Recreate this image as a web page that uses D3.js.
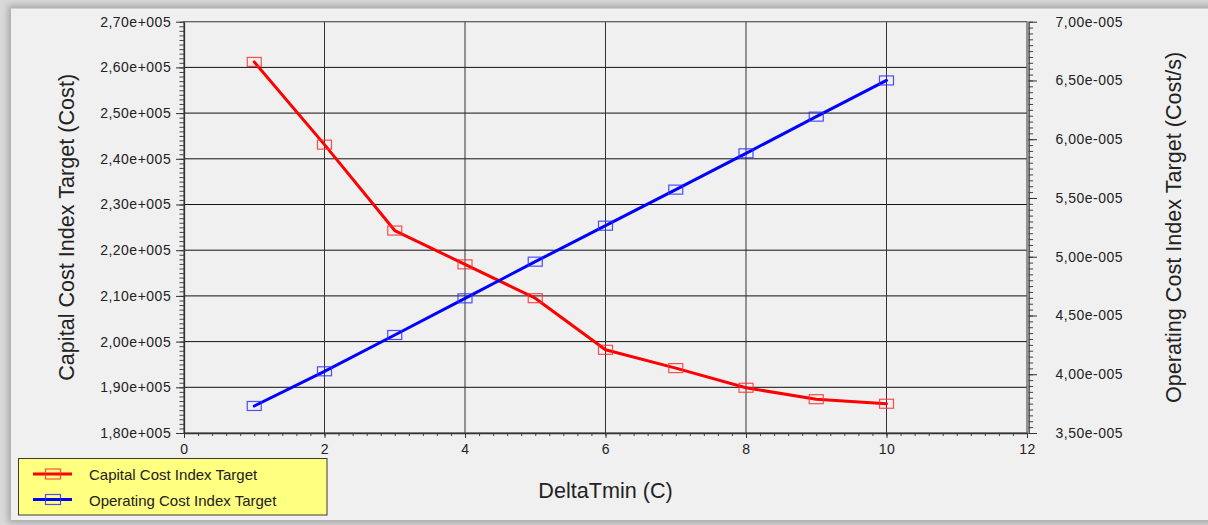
<!DOCTYPE html>
<html>
<head>
<meta charset="utf-8">
<script src="https://cdn.jsdelivr.net/npm/d3@7"></script>
<style>
  html, body { margin: 0; padding: 0; background: #d8d8d8; }
  svg { display: block; }
  text { font-family: "Liberation Sans", Arial, sans-serif; fill: #222; }
</style>
</head>
<body>
<svg id="chart" width="1208" height="525"></svg>
<script>
// DeltaTmin sweep: capital vs operating cost index targets
const deltaTmin = [1, 2, 3, 4, 5, 6, 7, 8, 9, 10];
const capitalCost = [261200, 243100, 224300, 216900, 209500, 198200, 194200, 189900, 187400, 186400];
const operatingCost = [3.73e-5, 4.025e-5, 4.334e-5, 4.646e-5, 4.958e-5, 5.264e-5, 5.571e-5, 5.88e-5, 6.192e-5, 6.50e-5];

const xTicks = [0, 2, 4, 6, 8, 10, 12];
const leftTicks = [1.8e5, 1.9e5, 2.0e5, 2.1e5, 2.2e5, 2.3e5, 2.4e5, 2.5e5, 2.6e5, 2.7e5];
const rightTicks = [3.5e-5, 4.0e-5, 4.5e-5, 5.0e-5, 5.5e-5, 6.0e-5, 6.5e-5, 7.0e-5];

const seriesNames = ["Capital Cost Index Target", "Operating Cost Index Target"];
const xTitle = "DeltaTmin (C)";
const leftTitle = "Capital Cost Index Target (Cost)";
const rightTitle = "Operating Cost Index Target (Cost/s)";

const svg = d3.select("#chart");
const W = 1208, H = 525;
const plot = { left: 184, right: 1027, top: 21.7, bottom: 433 };

const x = d3.scaleLinear().domain([0, 12]).range([plot.left, plot.right]);
const yL = d3.scaleLinear().domain([1.8e5, 2.7e5]).range([plot.bottom, plot.top]);
const yR = d3.scaleLinear().domain([3.5e-5, 7.0e-5]).range([plot.bottom, plot.top]);

// "2,70e+005" style labels
function sci(v) {
  const e = Math.floor(Math.log10(Math.abs(v)) + 1e-9);
  const m = v / Math.pow(10, e);
  const es = String(Math.abs(e)).padStart(3, "0");
  return m.toFixed(2).replace(".", ",") + "e" + (e < 0 ? "-" : "+") + es;
}

// window frame with soft shadow
const defs = svg.append("defs");
const blur = defs.append("filter").attr("id", "shadow")
  .attr("x", "-5%").attr("y", "-5%").attr("width", "110%").attr("height", "110%");
blur.append("feGaussianBlur").attr("stdDeviation", 3);
svg.append("rect").attr("width", W).attr("height", H).attr("fill", "#d9d9d9");
svg.append("rect").attr("x", 8).attr("y", 5).attr("width", W + 10).attr("height", 518)
  .attr("fill", "#a9a9a9").attr("filter", "url(#shadow)");
svg.append("rect").attr("x", 11).attr("y", 8.5).attr("width", W).attr("height", 511.5)
  .attr("fill", "#f0f0f0");

// evenly spaced minor tick positions
function minorTicks(lo, hi, step) {
  const out = [];
  const n = Math.round((hi - lo) / step);
  for (let i = 0; i <= n; i++) out.push(lo + i * step);
  return out;
}

// grid
const grid = svg.append("g").attr("stroke", "#111").attr("stroke-width", 1).attr("fill", "none");
grid.selectAll("line.h").data(leftTicks.slice(1, -1)).join("line")
  .attr("x1", plot.left).attr("x2", plot.right)
  .attr("y1", d => yL(d)).attr("y2", d => yL(d));
grid.selectAll("line.v").data(xTicks.slice(1, -1)).join("line")
  .attr("class", "v")
  .attr("y1", plot.top).attr("y2", plot.bottom)
  .attr("x1", d => x(d)).attr("x2", d => x(d)).attr("stroke", "#333");

// plot border
svg.append("rect").attr("x", plot.left).attr("y", plot.top)
  .attr("width", plot.right - plot.left).attr("height", plot.bottom - plot.top)
  .attr("fill", "none").attr("stroke", "#555").attr("stroke-width", 1.2);

function styleAxis(g) {
  g.select(".domain").attr("stroke", "#333").attr("stroke-width", 1.3);
  g.selectAll(".tick line").attr("stroke", "#333");
  g.selectAll("text").attr("font-size", 14).attr("letter-spacing", 0.5).attr("fill", "#222")
    .attr("font-family", '"Liberation Sans", Arial, sans-serif');
}

// left axis
svg.append("g").attr("transform", `translate(${plot.left},0)`)
  .call(d3.axisLeft(yL).tickValues(minorTicks(1.8e5, 2.7e5, 1e3 * 10 / 10)).tickSize(4.5).tickFormat("").tickSizeOuter(0))
  .call(g => { g.select(".domain").remove(); g.selectAll(".tick line").attr("stroke", "#444"); });
svg.append("g").attr("transform", `translate(${plot.left},0)`)
  .call(d3.axisLeft(yL).tickValues(leftTicks).tickSize(8).tickPadding(4.8).tickFormat(sci).tickSizeOuter(0))
  .call(styleAxis);

// right axis
const rAxisX = plot.right + 1.6;
svg.append("g").attr("transform", `translate(${rAxisX},0)`)
  .call(d3.axisRight(yR).tickValues(minorTicks(3.5e-5, 7.0e-5, 0.05e-5)).tickSize(4.5).tickFormat("").tickSizeOuter(0))
  .call(g => { g.select(".domain").remove(); g.selectAll(".tick line").attr("stroke", "#444"); });
svg.append("g").attr("transform", `translate(${rAxisX},0)`)
  .call(d3.axisRight(yR).tickValues(rightTicks).tickSize(8.4).tickPadding(18.5).tickFormat(sci).tickSizeOuter(0))
  .call(styleAxis);

// bottom axis
svg.append("g").attr("transform", `translate(0,${plot.bottom})`)
  .call(d3.axisBottom(x).tickValues(minorTicks(0, 12, 0.2)).tickSize(3).tickFormat("").tickSizeOuter(0))
  .call(g => { g.select(".domain").remove(); g.selectAll(".tick line").attr("stroke", "#444"); });
svg.append("g").attr("transform", `translate(0,${plot.bottom})`)
  .call(d3.axisBottom(x).tickValues(xTicks).tickSize(5).tickPadding(5.6).tickFormat(d3.format("d")).tickSizeOuter(0))
  .call(styleAxis);

// titles
svg.append("text").attr("x", (plot.left + plot.right) / 2).attr("y", 498.3)
  .attr("text-anchor", "middle").attr("font-size", 21.6).text(xTitle);
svg.append("text").attr("transform", `translate(74,${(plot.top + plot.bottom) / 2}) rotate(-90)`)
  .attr("text-anchor", "middle").attr("font-size", 21.6).text(leftTitle);
svg.append("text").attr("transform", `translate(1180.6,${(plot.top + plot.bottom) / 2}) rotate(-90)`)
  .attr("text-anchor", "middle").attr("font-size", 21.6).text(rightTitle);

// series
const series = [
  { name: seriesNames[0], values: capitalCost, y: yL, color: "#ff0000", marker: "#ff3030" },
  { name: seriesNames[1], values: operatingCost, y: yR, color: "#0000ff", marker: "#3030ff" }
];

series.forEach(s => {
  const pts = deltaTmin.map((d, i) => [d, s.values[i]]);
  const line = d3.line().x(p => x(p[0])).y(p => s.y(p[1]));
  svg.append("path").datum(pts)
    .attr("d", line).attr("fill", "none")
    .attr("stroke", s.color).attr("stroke-width", 3)
    .attr("stroke-linejoin", "round").attr("stroke-linecap", "round");
  svg.append("g").selectAll("rect").data(pts).join("rect")
    .attr("x", p => x(p[0]) - 7).attr("y", p => s.y(p[1]) - 4.5)
    .attr("width", 14).attr("height", 9)
    .attr("fill", "none").attr("stroke", s.marker).attr("stroke-opacity", 0.85)
    .attr("stroke-width", 1.2);
});

// legend
const legend = svg.append("g");
legend.append("rect").attr("x", 18.5).attr("y", 458.5).attr("width", 308.5).attr("height", 56.5)
  .attr("fill", "#ffff80").attr("stroke", "#3a3a3a").attr("stroke-width", 1);
series.forEach((s, i) => {
  const cy = 474 + i * 25.5;
  legend.append("line").attr("x1", 33).attr("x2", 72).attr("y1", cy).attr("y2", cy)
    .attr("stroke", s.color).attr("stroke-width", 3);
  legend.append("rect").attr("x", 45.5).attr("y", cy - 5).attr("width", 15).attr("height", 10)
    .attr("fill", "none").attr("stroke", s.marker).attr("stroke-opacity", 0.85).attr("stroke-width", 1.2);
  legend.append("text").attr("x", 89).attr("y", cy + 6).attr("font-size", 15).text(s.name);
});
</script>
</body>
</html>
